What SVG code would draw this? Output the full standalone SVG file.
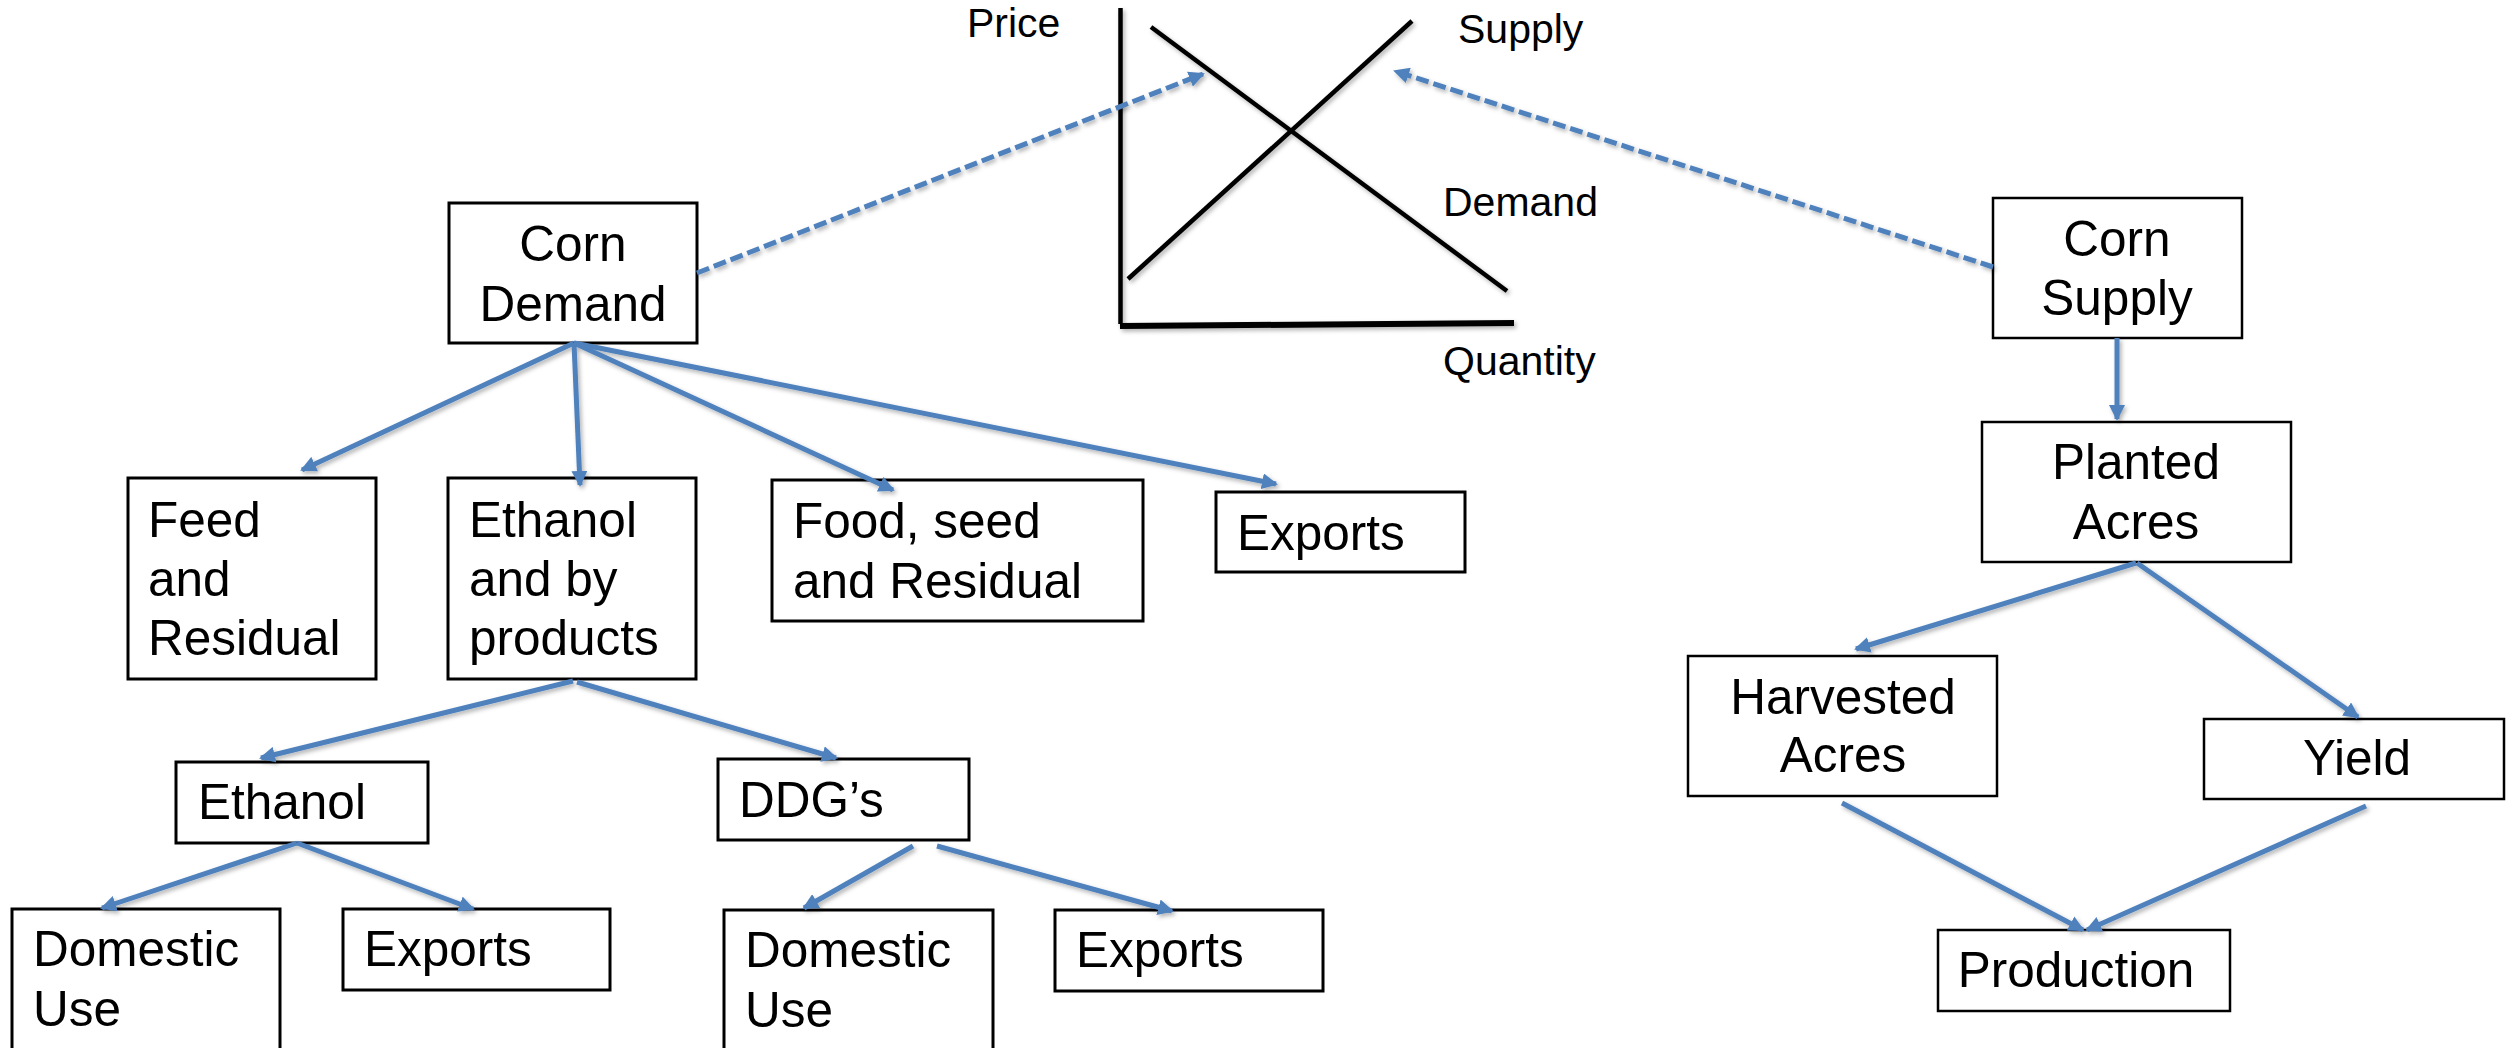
<svg xmlns="http://www.w3.org/2000/svg" width="2506" height="1048" viewBox="0 0 2506 1048">
  <defs>
    <style>
      .box { fill: #ffffff; stroke: #000000; stroke-width: 3; }
      .boxr { fill: #ffffff; stroke: #000000; stroke-width: 2.5; }
      .lbl { font-family: "Liberation Sans", Arial, sans-serif; font-size: 49.5px; fill: #000000; }
      .mid { text-anchor: middle; }
      .axis { font-family: "Liberation Sans", Arial, sans-serif; font-size: 41px; fill: #000000; }
      .link { stroke: #4F81BD; stroke-width: 5; fill: none; marker-end: url(#tri); }
      .dash { stroke: #4F81BD; stroke-width: 5; fill: none; stroke-dasharray: 13 5; marker-end: url(#tri); }
      .curve { stroke: #000000; stroke-width: 4.5; fill: none; stroke-linecap: butt; }
    </style>
    <marker id="tri" viewBox="0 0 16 16" refX="14" refY="8" markerWidth="16" markerHeight="16" markerUnits="userSpaceOnUse" orient="auto">
      <path d="M0,0 L16,8 L0,16 Z" fill="#4F81BD"/>
    </marker>
    <filter id="shadow" x="-10%" y="-10%" width="120%" height="120%">
      <feDropShadow dx="2" dy="2.5" stdDeviation="2" flood-color="#000000" flood-opacity="0.3"/>
    </filter>
  </defs>

  <rect width="2506" height="1048" fill="#ffffff"/>

  <!-- price / quantity chart -->
  <g id="chart" filter="url(#shadow)">
    <line class="curve" x1="1120.5" y1="8" x2="1120.5" y2="324"/>
    <line x1="1120" y1="326" x2="1514" y2="323" stroke="#000000" stroke-width="6"/>
    <line class="curve" x1="1151" y1="27" x2="1507" y2="291"/>
    <line class="curve" x1="1128" y1="279" x2="1412" y2="21"/>
  </g>
  <g id="chart-labels">
    <text class="axis" x="967" y="37">Price</text>
    <text class="axis" x="1458" y="43">Supply</text>
    <text class="axis" x="1443" y="216">Demand</text>
    <text class="axis" x="1443" y="375">Quantity</text>
  </g>

  <!-- demand side -->
  <g id="corn-demand">
    <rect class="box" x="449" y="203" width="248" height="140"/>
    <text class="lbl mid" x="573" y="261">Corn</text>
    <text class="lbl mid" x="573" y="321">Demand</text>
  </g>
  <g id="feed">
    <rect class="box" x="128" y="478" width="248" height="201"/>
    <text class="lbl" x="148" y="537">Feed</text>
    <text class="lbl" x="148" y="596">and</text>
    <text class="lbl" x="148" y="655">Residual</text>
  </g>
  <g id="ethanol-byproducts">
    <rect class="box" x="448" y="478" width="248" height="201"/>
    <text class="lbl" x="469" y="537">Ethanol</text>
    <text class="lbl" x="469" y="596">and by</text>
    <text class="lbl" x="469" y="655">products</text>
  </g>
  <g id="food-seed">
    <rect class="box" x="772" y="480" width="371" height="141"/>
    <text class="lbl" x="793" y="538">Food, seed</text>
    <text class="lbl" x="793" y="598">and Residual</text>
  </g>
  <g id="exports-corn">
    <rect class="box" x="1216" y="492" width="249" height="80"/>
    <text class="lbl" x="1237" y="550">Exports</text>
  </g>
  <g id="ethanol">
    <rect class="box" x="176" y="762" width="252" height="81"/>
    <text class="lbl" x="198" y="819">Ethanol</text>
  </g>
  <g id="ddgs">
    <rect class="box" x="718" y="759" width="251" height="81"/>
    <text class="lbl" x="739" y="817">DDG’s</text>
  </g>
  <g id="ethanol-domestic">
    <rect class="box" x="12" y="909" width="268" height="160"/>
    <text class="lbl" x="33" y="966">Domestic</text>
    <text class="lbl" x="33" y="1026">Use</text>
  </g>
  <g id="ethanol-exports">
    <rect class="box" x="343" y="909" width="267" height="81"/>
    <text class="lbl" x="364" y="966">Exports</text>
  </g>
  <g id="ddgs-domestic">
    <rect class="box" x="724" y="910" width="269" height="160"/>
    <text class="lbl" x="745" y="967">Domestic</text>
    <text class="lbl" x="745" y="1027">Use</text>
  </g>
  <g id="ddgs-exports">
    <rect class="box" x="1055" y="910" width="268" height="81"/>
    <text class="lbl" x="1076" y="967">Exports</text>
  </g>

  <!-- supply side -->
  <g id="corn-supply">
    <rect class="boxr" x="1993" y="198" width="249" height="140"/>
    <text class="lbl mid" x="2117" y="256">Corn</text>
    <text class="lbl mid" x="2117" y="315">Supply</text>
  </g>
  <g id="planted-acres">
    <rect class="boxr" x="1982" y="422" width="309" height="140"/>
    <text class="lbl mid" x="2136" y="479">Planted</text>
    <text class="lbl mid" x="2136" y="539">Acres</text>
  </g>
  <g id="harvested-acres">
    <rect class="boxr" x="1688" y="656" width="309" height="140"/>
    <text class="lbl mid" x="1843" y="714">Harvested</text>
    <text class="lbl mid" x="1843" y="772">Acres</text>
  </g>
  <g id="yield">
    <rect class="boxr" x="2204" y="719" width="300" height="80"/>
    <text class="lbl mid" x="2357" y="775">Yield</text>
  </g>
  <g id="production">
    <rect class="boxr" x="1938" y="930" width="292" height="81"/>
    <text class="lbl mid" x="2076" y="987">Production</text>
  </g>

  <!-- connectors, drawn over the boxes so arrowheads overlap the borders -->
  <g id="connectors" filter="url(#shadow)">
    <line class="dash" x1="697" y1="273" x2="1203" y2="74"/>
    <line class="dash" x1="1993" y1="267" x2="1395" y2="71"/>

    <line class="link" x1="574" y1="343" x2="302" y2="470"/>
    <line class="link" x1="574" y1="343" x2="580" y2="485"/>
    <line class="link" x1="574" y1="343" x2="893" y2="490"/>
    <line class="link" x1="574" y1="343" x2="1276" y2="484"/>

    <line class="link" x1="573" y1="681" x2="261" y2="758"/>
    <line class="link" x1="577" y1="682" x2="836" y2="758"/>

    <line class="link" x1="297" y1="843" x2="102" y2="908"/>
    <line class="link" x1="297" y1="843" x2="473" y2="909"/>
    <line class="link" x1="913" y1="846" x2="804" y2="908"/>
    <line class="link" x1="937" y1="846" x2="1172" y2="911"/>

    <line class="link" x1="2117" y1="338" x2="2117" y2="419"/>
    <line class="link" x1="2136" y1="563" x2="1856" y2="649"/>
    <line class="link" x1="2137" y1="563" x2="2358" y2="717"/>
    <line class="link" x1="1842" y1="803" x2="2083" y2="930"/>
    <line class="link" x1="2366" y1="806" x2="2087" y2="930"/>
  </g>
</svg>
